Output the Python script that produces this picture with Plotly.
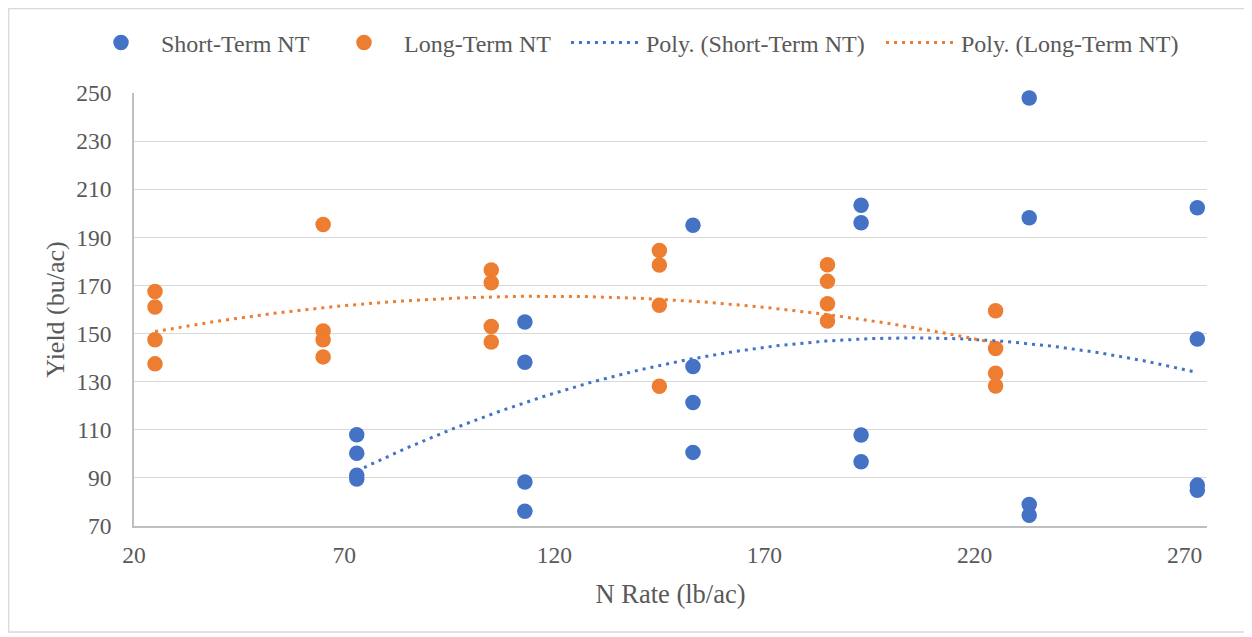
import numpy as np
import plotly.graph_objects as go

# ---- data ----
st_x = [73, 73, 73, 73, 113, 113, 113, 113, 153, 153, 153, 153,
        193, 193, 193, 193, 233, 233, 233, 233, 273, 273, 273, 273]
st_y = [107.9, 100.2, 91.1, 89.5, 154.8, 138.1, 88.3, 76.1, 195.0, 136.3, 121.3, 100.6,
        203.3, 196.1, 107.8, 96.7, 247.9, 198.1, 78.9, 74.5, 202.3, 147.7, 87.0, 84.9]

lt_x = [25, 25, 25, 25, 65, 65, 65, 65, 105, 105, 105, 105,
        145, 145, 145, 145, 185, 185, 185, 185, 225, 225, 225, 225]
lt_y = [167.5, 161.0, 147.4, 137.4, 195.3, 151.1, 147.4, 140.3, 176.4, 171.1, 152.9, 146.5,
        184.5, 178.5, 161.8, 128.1, 178.6, 171.7, 162.4, 155.2, 159.5, 143.8, 133.5, 128.2]

x_ticks = [20, 70, 120, 170, 220, 270]
y_ticks = [70, 90, 110, 130, 150, 170, 190, 210, 230, 250]

BLUE = "#4472C4"
ORANGE = "#ED7D31"
TXT = "#595959"
FONT = "Liberation Serif, Times New Roman, serif"

def trend(xs, ys):
    c = np.polyfit(xs, ys, 2)
    xx = np.linspace(min(xs), max(xs), 200)
    return xx, np.polyval(c, xx)

st_tx, st_ty = trend(st_x, st_y)
lt_tx, lt_ty = trend(lt_x, lt_y)

fig = go.Figure()
fig.add_trace(go.Scatter(x=st_x, y=st_y, mode="markers", name="Short-Term NT",
                         marker=dict(color=BLUE, size=15.5), legend="legend", cliponaxis=False))
fig.add_trace(go.Scatter(x=lt_x, y=lt_y, mode="markers", name="Long-Term NT",
                         marker=dict(color=ORANGE, size=15.5), legend="legend2", cliponaxis=False))
fig.add_trace(go.Scatter(x=st_tx, y=st_ty, mode="lines", name="Poly. (Short-Term NT)",
                         line=dict(color=BLUE, width=3, dash="3px,5px"), legend="legend3"))
fig.add_trace(go.Scatter(x=lt_tx, y=lt_ty, mode="lines", name="Poly. (Long-Term NT)",
                         line=dict(color=ORANGE, width=3, dash="3px,5px"), legend="legend4"))

# page body has an 8px margin, so the figure is laid out 8px smaller and shifted
OFF = 8
W, H = 1252 - OFF, 637 - OFF
L, R, T, B = 126, 45, 85, 111
pw, ph = W - L - R, H - T - B

def px2paperx(px):  # window pixel -> paper
    return (px - OFF - L) / pw

def py2papery(py):
    return (H - B - (py - OFF)) / ph

leg_common = dict(orientation="h", yanchor="middle", xanchor="left",
                  font=dict(family=FONT, size=24, color=TXT),
                  bgcolor="rgba(0,0,0,0)", itemwidth=70, borderwidth=0)
ly = py2papery(43)
fig.update_layout(
    showlegend=True,
    legend=dict(x=px2paperx(81), y=ly, **leg_common),
    legend2=dict(x=px2paperx(324), y=ly, **leg_common),
    legend3=dict(x=px2paperx(566), y=ly, **leg_common),
    legend4=dict(x=px2paperx(881), y=ly, **leg_common),
)

fig.update_layout(
    width=W, height=H,
    margin=dict(l=L, r=R, t=T, b=B),
    paper_bgcolor="white", plot_bgcolor="white",
    font=dict(family=FONT, color=TXT),
    xaxis=dict(range=[20, 275.3], tickvals=x_ticks, showgrid=False, zeroline=False,
               showline=True, linecolor="#bfbfbf", linewidth=1.5,
               ticks="", ticklabelstandoff=7,
               tickfont=dict(family=FONT, size=23.5, color=TXT),
               title=dict(text="N Rate (lb/ac)", font=dict(family=FONT, size=26.5, color=TXT), standoff=17)),
    yaxis=dict(range=[70, 250], tickvals=y_ticks, showgrid=True, gridcolor="#d9d9d9", gridwidth=1.3,
               zeroline=False, showline=True, linecolor="#bfbfbf", linewidth=1.5,
               ticks="", ticklabelstandoff=16,
               tickfont=dict(family=FONT, size=23.5, color=TXT),
               title=dict(text="Yield (bu/ac)", font=dict(family=FONT, size=26, color=TXT), standoff=4)),
    shapes=[dict(type="rect", xref="paper", yref="paper",
                 x0=px2paperx(8.7), x1=px2paperx(1246), y0=py2papery(632), y1=py2papery(8.7),
                 line=dict(color="#d9d9d9", width=1.3), fillcolor="rgba(0,0,0,0)", layer="below")],
)

fig.write_html("out.html")
